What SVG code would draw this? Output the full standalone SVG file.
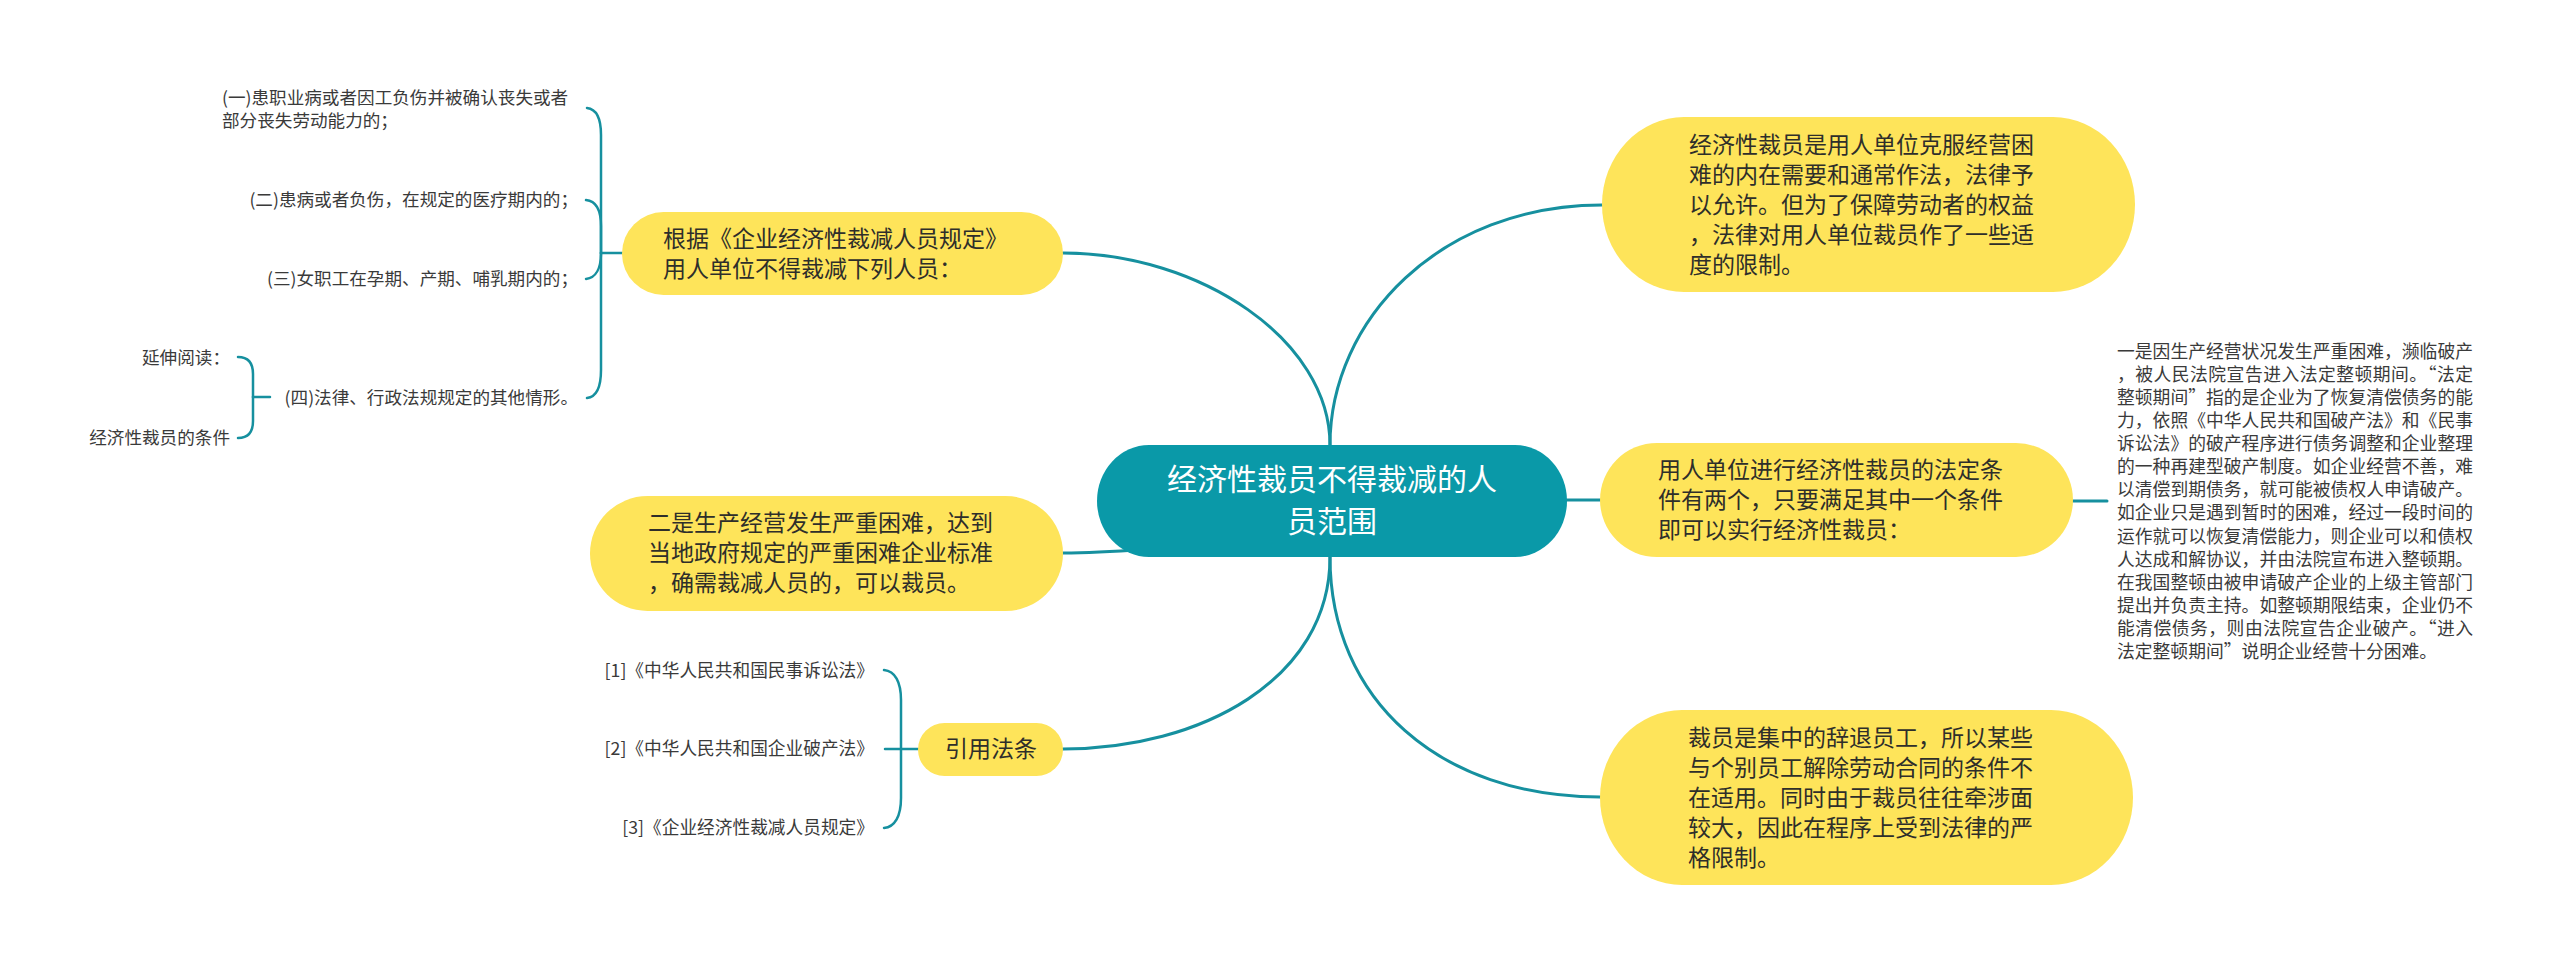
<svg xmlns="http://www.w3.org/2000/svg" width="2560" height="963" viewBox="0 0 2560 963">
<style>
  .bg { fill: #ffffff; }
  .link { fill: none; stroke: #16909F; stroke-width: 3; stroke-linecap: round; }
  .brk { fill: none; stroke: #16909F; stroke-width: 2.5; stroke-linecap: round; }
  .yl { fill: #FEE45A; }
  .root { fill: #0A99A8; }
  text { font-family: "Noto Sans CJK SC", "Noto Sans", sans-serif; }
  .rt { font-size: 30px; fill: #ffffff; text-anchor: middle; }
  .nt { font-size: 23px; fill: #2e2e2a; }
  .st { font-size: 17.6px; fill: #3a3a3a; }
  .rf { font-size: 17.7px; fill: #3a3a3a; text-anchor: end; }
  .lt { font-size: 17.8px; fill: #3a3a3a; }
</style>
<rect class="bg" x="0" y="0" width="2560" height="963"/>

<g id="connectors">
  <path class="link" d="M1330,445 C1330,340 1200,253 1063,253"/>
  <path class="link" d="M1330,445 C1330,320 1440,205 1602,205"/>
  <path class="link" d="M1560,500 L1600,500"/>
  <path class="link" d="M1063,553 C1100,553 1120,551 1160,548"/>
  <path class="link" d="M1330,557 C1330,680 1200,749 1063,749"/>
  <path class="link" d="M1330,557 C1330,700 1440,797 1600,797"/>
  <path class="link" d="M2073,501 L2107,501"/>
  <!-- bracket for node 2 -->
  <path class="brk" d="M622,253 L601,253"/>
  <path class="brk" d="M601,253 L601,135 C601,118 596,109 587,108"/>
  <path class="brk" d="M601,253 L601,226 C601,210 596,201 586,200"/>
  <path class="brk" d="M601,253 L601,253 C601,268 596,278 586,279"/>
  <path class="brk" d="M601,253 L601,370 C601,388 596,397 587,398"/>
  <!-- bracket for (四) -->
  <path class="brk" d="M270,397 L253,397"/>
  <path class="brk" d="M253,397 L253,374 C253,363 248,357 238,357"/>
  <path class="brk" d="M253,397 L253,421 C253,432 248,438 238,438"/>
  <!-- bracket for 引用法条 -->
  <path class="brk" d="M918,749 L885,749"/>
  <path class="brk" d="M901,749 L901,700 C901,682 895,671 884,670"/>
  <path class="brk" d="M901,749 L901,798 C901,816 895,827 884,828"/>
</g>

<g id="root">
  <rect class="root" x="1097" y="445" width="470" height="112" rx="52" ry="56"/>
  <text class="rt" x="1332" y="490">经济性裁员不得裁减的人</text>
  <text class="rt" x="1332" y="532">员范围</text>
</g>

<g id="node-guiding">
  <rect class="yl" x="622" y="212" width="441" height="83" rx="41.5"/>
  <text class="nt" x="663" y="247">根据《企业经济性裁减人员规定》</text>
  <text class="nt" x="663" y="277">用人单位不得裁减下列人员：</text>
</g>

<g id="item-1">
  <text class="st" x="222" y="104">(一)患职业病或者因工负伤并被确认丧失或者</text>
  <text class="st" x="222" y="127">部分丧失劳动能力的；</text>
</g>
<g id="item-2">
  <text class="st" x="578" y="206" text-anchor="end">(二)患病或者负伤，在规定的医疗期内的；</text>
</g>
<g id="item-3">
  <text class="st" x="578" y="285" text-anchor="end">(三)女职工在孕期、产期、哺乳期内的；</text>
</g>
<g id="item-4">
  <text class="st" x="578" y="404" text-anchor="end">(四)法律、行政法规规定的其他情形。</text>
</g>
<g id="item-4a">
  <text class="st" x="230" y="364" text-anchor="end">延伸阅读：</text>
</g>
<g id="item-4b">
  <text class="st" x="230" y="444" text-anchor="end">经济性裁员的条件</text>
</g>

<g id="node-second">
  <rect class="yl" x="590" y="496" width="473" height="115" rx="57.5"/>
  <text class="nt" x="648" y="531">二是生产经营发生严重困难，达到</text>
  <text class="nt" x="648" y="561">当地政府规定的严重困难企业标准</text>
  <text class="nt" x="648" y="591">，确需裁减人员的，可以裁员。</text>
</g>

<g id="node-refs">
  <rect class="yl" x="918" y="723" width="145" height="53" rx="26.5"/>
  <text class="nt" x="991" y="757" text-anchor="middle">引用法条</text>
</g>
<g id="ref-1"><text class="rf" x="874" y="677">[1]《中华人民共和国民事诉讼法》</text></g>
<g id="ref-2"><text class="rf" x="874" y="755">[2]《中华人民共和国企业破产法》</text></g>
<g id="ref-3"><text class="rf" x="874" y="834">[3]《企业经济性裁减人员规定》</text></g>

<g id="node-intro">
  <rect class="yl" x="1602" y="117" width="533" height="175" rx="82" ry="87.5"/>
  <text class="nt" x="1689" y="153">经济性裁员是用人单位克服经营困</text>
  <text class="nt" x="1689" y="183">难的内在需要和通常作法，法律予</text>
  <text class="nt" x="1689" y="213">以允许。但为了保障劳动者的权益</text>
  <text class="nt" x="1689" y="243">，法律对用人单位裁员作了一些适</text>
  <text class="nt" x="1689" y="273">度的限制。</text>
</g>

<g id="node-conditions">
  <rect class="yl" x="1600" y="443" width="473" height="114" rx="57"/>
  <text class="nt" x="1658" y="478">用人单位进行经济性裁员的法定条</text>
  <text class="nt" x="1658" y="508">件有两个，只要满足其中一个条件</text>
  <text class="nt" x="1658" y="538">即可以实行经济性裁员：</text>
</g>

<g id="node-detail">
  <text class="lt" x="2117" y="358" textLength="356" lengthAdjust="spacing">一是因生产经营状况发生严重困难，濒临破产</text>
  <text class="lt" x="2117" y="381" textLength="356" lengthAdjust="spacing">，被人民法院宣告进入法定整顿期间。“法定</text>
  <text class="lt" x="2117" y="404" textLength="356" lengthAdjust="spacing">整顿期间”指的是企业为了恢复清偿债务的能</text>
  <text class="lt" x="2117" y="427" textLength="356" lengthAdjust="spacing">力，依照《中华人民共和国破产法》和《民事</text>
  <text class="lt" x="2117" y="450" textLength="356" lengthAdjust="spacing">诉讼法》的破产程序进行债务调整和企业整理</text>
  <text class="lt" x="2117" y="473" textLength="356" lengthAdjust="spacing">的一种再建型破产制度。如企业经营不善，难</text>
  <text class="lt" x="2117" y="496" textLength="356" lengthAdjust="spacing">以清偿到期债务，就可能被债权人申请破产。</text>
  <text class="lt" x="2117" y="519" textLength="356" lengthAdjust="spacing">如企业只是遇到暂时的困难，经过一段时间的</text>
  <text class="lt" x="2117" y="543" textLength="356" lengthAdjust="spacing">运作就可以恢复清偿能力，则企业可以和债权</text>
  <text class="lt" x="2117" y="566" textLength="356" lengthAdjust="spacing">人达成和解协议，并由法院宣布进入整顿期。</text>
  <text class="lt" x="2117" y="589" textLength="356" lengthAdjust="spacing">在我国整顿由被申请破产企业的上级主管部门</text>
  <text class="lt" x="2117" y="612" textLength="356" lengthAdjust="spacing">提出并负责主持。如整顿期限结束，企业仍不</text>
  <text class="lt" x="2117" y="635" textLength="356" lengthAdjust="spacing">能清偿债务，则由法院宣告企业破产。“进入</text>
  <text class="lt" x="2117" y="658">法定整顿期间”说明企业经营十分困难。</text>
</g>

<g id="node-limit">
  <rect class="yl" x="1600" y="710" width="533" height="175" rx="82" ry="87.5"/>
  <text class="nt" x="1688" y="746">裁员是集中的辞退员工，所以某些</text>
  <text class="nt" x="1688" y="776">与个别员工解除劳动合同的条件不</text>
  <text class="nt" x="1688" y="806">在适用。同时由于裁员往往牵涉面</text>
  <text class="nt" x="1688" y="836">较大，因此在程序上受到法律的严</text>
  <text class="nt" x="1688" y="866">格限制。</text>
</g>
</svg>
